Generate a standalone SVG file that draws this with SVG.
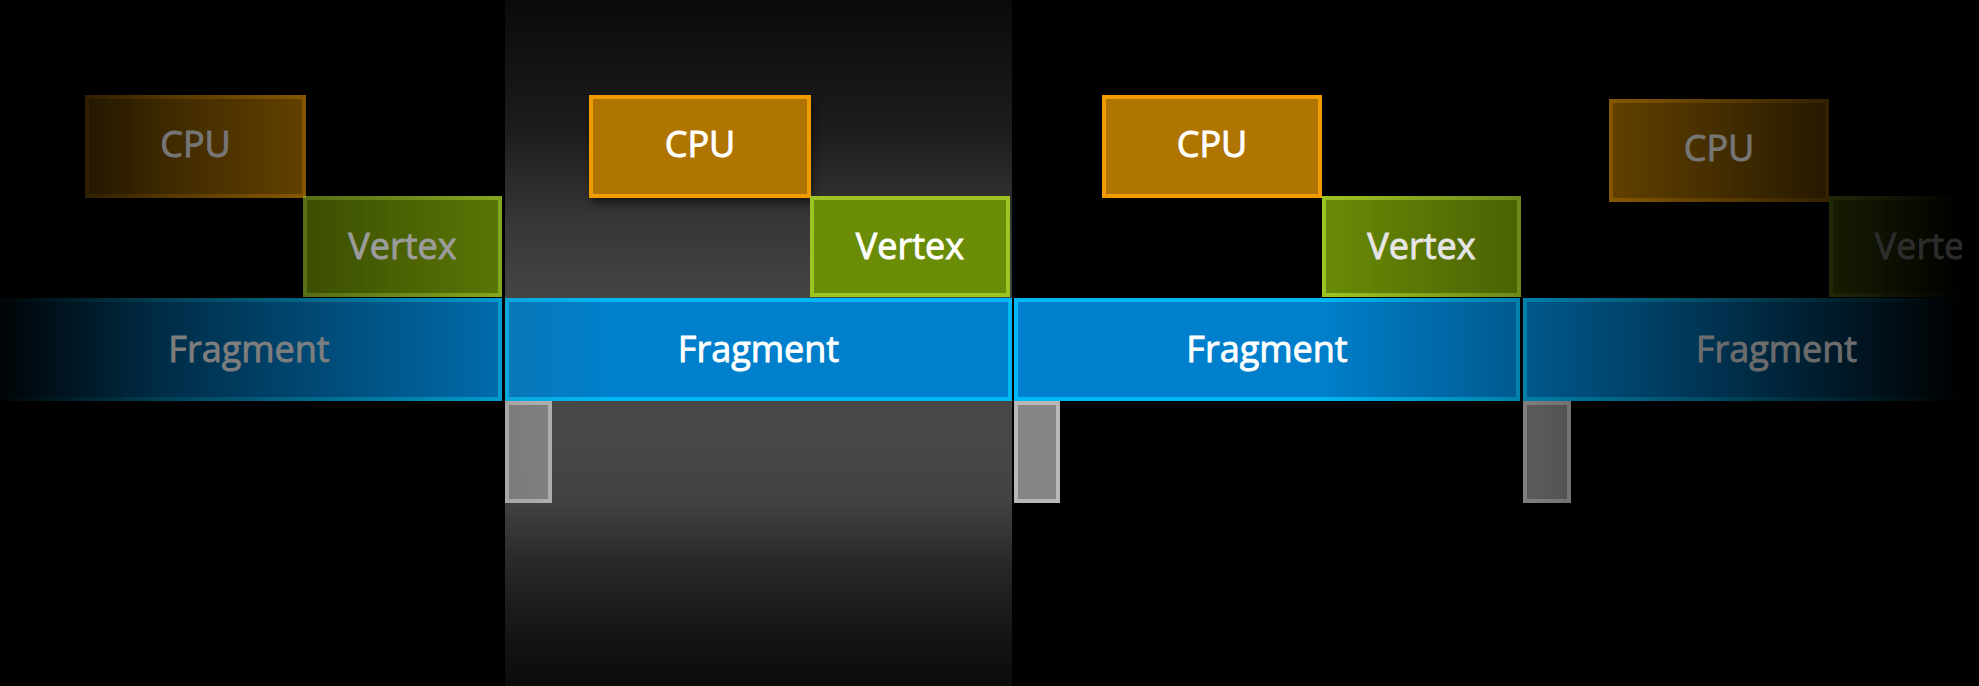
<svg xmlns="http://www.w3.org/2000/svg" width="1979" height="686" viewBox="0 0 1979 686">
  <style>
    .cpu{fill:#b07400;stroke:#f09c00;stroke-width:4}
    .vtx{fill:#6b8c06;stroke:#9cc524;stroke-width:4}
    .frg{fill:#0080cc;stroke:#00b8f5;stroke-width:4}
    .idle{fill:#858585;stroke:#b8b8b8;stroke-width:4}
    .lbl{font-family:"Open Sans","Noto Sans","Liberation Sans",sans-serif;font-size:36px;text-anchor:middle;fill:#ffffff;stroke:#ffffff;stroke-width:0.9}
    .dimA{fill:#767676;stroke:#767676}
    .dimB{fill:#9c9c9c;stroke:#9c9c9c}
    .dimC{fill:#7e7e7e;stroke:#7e7e7e}
    .dimD{fill:#6c6c6c;stroke:#6c6c6c}
    .dimE{fill:#2c2c2c;stroke:#2c2c2c}
    .soft{fill:#e6e6e6;stroke:#e6e6e6}
  </style>
  <defs>
    <!-- vertical glow behind the highlighted frame -->
    <linearGradient id="frameBg" x1="0" y1="0" x2="0" y2="686" gradientUnits="userSpaceOnUse">
      <stop offset="0" stop-color="#0a0a0a"/>
      <stop offset="0.19" stop-color="#1c1c1c"/>
      <stop offset="0.32" stop-color="#363636"/>
      <stop offset="0.44" stop-color="#454545"/>
      <stop offset="0.64" stop-color="#484848"/>
      <stop offset="0.73" stop-color="#424242"/>
      <stop offset="0.83" stop-color="#262626"/>
      <stop offset="0.93" stop-color="#141414"/>
      <stop offset="1" stop-color="#0b0b0b"/>
    </linearGradient>
    <!-- horizontal visibility ramp: frames fade out towards both edges -->
    <linearGradient id="ramp" x1="0" y1="0" x2="1979" y2="0" gradientUnits="userSpaceOnUse">
      <stop offset="0" stop-color="#fff" stop-opacity="0.03"/>
      <stop offset="0.0859" stop-color="#fff" stop-opacity="0.36"/>
      <stop offset="0.2552" stop-color="#fff" stop-opacity="0.85"/>
      <stop offset="0.3082" stop-color="#fff" stop-opacity="1"/>
      <stop offset="0.667" stop-color="#fff" stop-opacity="1"/>
      <stop offset="0.768" stop-color="#fff" stop-opacity="0.7"/>
      <stop offset="0.9914" stop-color="#fff" stop-opacity="0"/>
      <stop offset="1" stop-color="#fff" stop-opacity="0"/>
    </linearGradient>
    <mask id="fade" maskUnits="userSpaceOnUse" x="0" y="0" width="1979" height="686">
      <rect x="0" y="0" width="1979" height="686" fill="url(#ramp)"/>
    </mask>
    <filter id="shadow" x="-10%" y="-20%" width="120%" height="150%">
      <feDropShadow dx="2" dy="5" stdDeviation="4" flood-color="#000" flood-opacity="0.55"/>
    </filter>
    <clipPath id="edge">
      <rect x="0" y="0" width="1962" height="686"/>
    </clipPath>
  </defs>

  <!-- backdrop -->
  <rect x="0" y="0" width="1979" height="686" fill="#000"/>
  <rect id="frame-highlight" x="505" y="0" width="507" height="686" fill="url(#frameBg)"/>

  <!-- frame 1 -->
  <g id="cpu-1">
    <rect class="cpu" x="87" y="97" width="217" height="99" mask="url(#fade)"/>
    <text class="lbl dimA" x="195.5" y="157">CPU</text>
  </g>
  <g id="vertex-1">
    <rect class="vtx" x="305" y="198" width="195" height="97" mask="url(#fade)"/>
    <text class="lbl dimB" x="402.5" y="259">Vertex</text>
  </g>
  <g id="fragment-1">
    <rect class="frg" x="-2" y="300" width="502" height="99" mask="url(#fade)"/>
    <text class="lbl dimC" x="249" y="362">Fragment</text>
  </g>

  <!-- frame 2 -->
  <g id="cpu-2">
    <rect class="cpu" x="591" y="97" width="218" height="99" filter="url(#shadow)"/>
    <text class="lbl" x="700" y="157">CPU</text>
  </g>
  <g id="vertex-2">
    <rect class="vtx" x="812" y="198" width="196" height="97"/>
    <text class="lbl" x="910" y="259">Vertex</text>
  </g>
  <g id="fragment-2">
    <rect class="frg" x="507" y="300" width="503" height="99" mask="url(#fade)"/>
    <text class="lbl" x="758.5" y="362">Fragment</text>
  </g>
  <g id="idle-2">
    <rect class="idle" x="507" y="403" width="43" height="98" mask="url(#fade)"/>
  </g>

  <!-- frame 3 -->
  <g id="cpu-3">
    <rect class="cpu" x="1104" y="97" width="216" height="99"/>
    <text class="lbl" x="1212" y="157">CPU</text>
  </g>
  <g id="vertex-3">
    <rect class="vtx" x="1324" y="198" width="195" height="97" mask="url(#fade)"/>
    <text class="lbl soft" x="1421.5" y="259">Vertex</text>
  </g>
  <g id="fragment-3">
    <rect class="frg" x="1016" y="300" width="502" height="99" mask="url(#fade)"/>
    <text class="lbl" x="1267" y="362">Fragment</text>
  </g>
  <g id="idle-3">
    <rect class="idle" x="1016" y="403" width="42" height="98"/>
  </g>

  <!-- frame 4 (runs off the right edge) -->
  <g id="cpu-4">
    <rect class="cpu" x="1611" y="101" width="216" height="99" mask="url(#fade)"/>
    <text class="lbl dimA" x="1719" y="161">CPU</text>
  </g>
  <g id="vertex-4" clip-path="url(#edge)">
    <rect class="vtx" x="1831" y="198" width="196" height="97" mask="url(#fade)"/>
    <text class="lbl dimE" x="1929" y="259">Vertex</text>
  </g>
  <g id="fragment-4">
    <rect class="frg" x="1525" y="300" width="503" height="99" mask="url(#fade)"/>
    <text class="lbl dimD" x="1776.5" y="362">Fragment</text>
  </g>
  <g id="idle-4">
    <rect class="idle" x="1525" y="403" width="44" height="98" mask="url(#fade)"/>
  </g>

  <!-- no connectors in this timeline -->
  <g id="connectors"/>
</svg>
